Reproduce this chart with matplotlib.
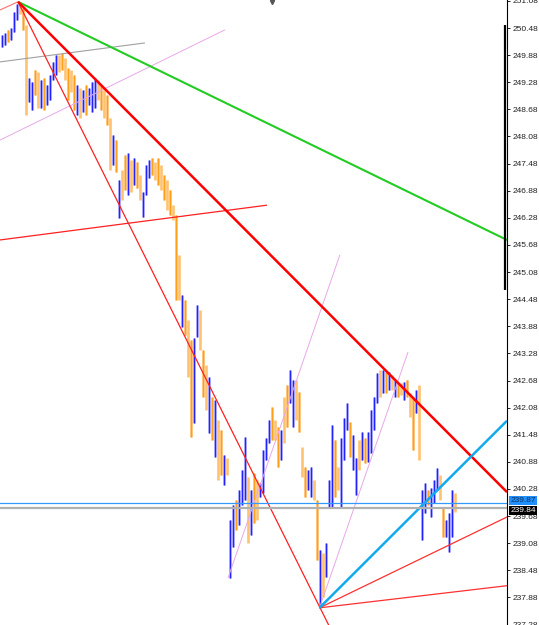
import matplotlib
matplotlib.use("Agg")
import matplotlib.pyplot as plt
import numpy as np

# ---------------- data ----------------
highs = [
    250.33, 250.37, 250.44, 250.48, 250.83, 251.01, 251.06, 250.92, 250.55, 249.37,
    249.29, 249.55, 249.51, 249.33, 249.37, 249.22, 249.44, 249.73, 249.88, 249.88,
    249.93, 249.82, 249.60, 249.55, 249.44, 249.22, 249.15, 249.11, 249.22, 249.15,
    249.29, 249.37, 249.33, 249.22, 249.11, 249.00, 248.49, 248.11, 248.00, 247.12,
    247.34, 247.67, 247.72, 247.56, 247.60, 247.52, 247.23, 246.85, 247.45, 247.56,
    247.60, 247.52, 247.60, 247.45, 247.23, 247.12, 246.90, 246.56, 246.34, 245.46,
    244.57, 244.46, 244.02, 243.58, 243.62, 244.35, 244.24, 243.36, 243.02, 242.76,
    242.32, 242.25, 241.81, 241.59, 241.03, 240.97, 239.60, 239.93, 240.04, 240.26,
    240.70, 241.43, 240.55, 240.26, 240.63, 240.48, 240.41, 241.14, 241.41, 241.81,
    242.10, 241.81, 241.65, 241.59, 242.32, 242.58, 242.91, 242.69, 242.69, 242.43,
    241.21, 240.77, 240.70, 240.77, 240.48, 240.04, 238.93, 238.87, 239.09, 240.48,
    241.70, 241.37, 240.77, 241.41, 241.85, 242.18, 241.76, 241.48, 240.97, 241.37,
    241.54, 241.41, 241.54, 242.03, 242.32, 242.85, 242.91, 242.91, 242.87, 242.87,
    242.80, 242.69, 242.63, 242.63, 242.65, 242.69, 242.41, 242.32, 242.47, 242.58,
    240.26, 240.41, 240.26, 240.30, 240.48, 240.75, 240.59, 239.88, 239.60, 239.75,
    240.26, 240.19,
]
lows = [
    250.06, 250.10, 250.17, 250.22, 250.39, 250.66, 250.79, 250.44, 248.56, 248.84,
    248.67, 249.00, 248.71, 248.71, 248.67, 248.78, 248.89, 249.33, 249.44, 249.51,
    249.55, 249.33, 248.89, 249.06, 248.67, 248.56, 248.49, 248.62, 248.56, 248.78,
    248.62, 248.71, 248.89, 248.67, 248.49, 248.34, 247.34, 247.45, 247.30, 246.28,
    246.68, 246.90, 246.79, 246.85, 247.01, 246.94, 246.68, 246.30, 246.79, 247.16,
    247.23, 247.12, 247.01, 246.90, 246.68, 246.45, 246.34, 246.23, 244.46, 244.46,
    243.87, 243.69, 242.76, 241.43, 241.74, 243.64, 243.36, 242.32, 242.03, 241.52,
    241.37, 240.99, 240.48, 240.59, 240.37, 240.59, 238.31, 239.00, 239.37, 239.49,
    239.93, 240.04, 239.09, 239.26, 239.53, 239.60, 240.10, 240.19, 240.92, 241.30,
    241.37, 241.37, 240.77, 240.92, 241.30, 241.65, 242.18, 241.65, 241.81, 241.54,
    240.55, 240.10, 240.26, 240.10, 240.04, 238.71, 237.65, 237.89, 238.33, 239.88,
    239.88, 240.10, 240.26, 239.88, 240.92, 241.59, 240.99, 240.70, 240.15, 240.70,
    240.92, 240.86, 240.88, 241.08, 241.59, 242.18, 242.32, 242.41, 242.41, 242.47,
    242.47, 242.32, 242.32, 242.36, 242.25, 242.32, 241.87, 241.14, 241.96, 240.92,
    239.15, 239.75, 239.93, 239.66, 239.97, 240.26, 240.04, 239.22, 239.22, 238.89,
    239.22, 239.77,
]
# B = up bar (blue), O = down bar (orange)
directions = (
    "BBOBBBOOOB"
    "BOOBOBBBBO"
    "OOOOOBOBOB"
    "BBOOOOOBOB"
    "OOBOBOOBBB"
    "OOOOOOOOOO"
    "BOOOBBOOOB"
    "OBOOBOBBOB"
    "BBOBOOBBBB"
    "OOOBOOBBOO"
    "OOBBOOBOBB"
    "BOOBBBOBBO"
    "BOBBBBOBOB"
    "OBOOBOOOBO"
    "BBOBBBOOBB"
    "BO"
)

# trend / fan lines: (bar index, price) pairs
green_line = [(5.5, 251.06), (168.5, 245.79)]
red_thick = [(5.5, 251.06), (168.5, 240.21)]
red_steep = [(5.5, 251.06), (109.5, 237.21)]
red_topleft = [(-0.5, 250.88), (5.5, 251.06)]
red_left = [(-0.5, 245.79), (88.5, 246.56)]
grey_line = [(-0.5, 249.73), (47.8, 250.15)]
pink_1 = [(-0.5, 248.00), (74.5, 250.44)]
pink_2 = [(75.5, 238.31), (112.8, 245.46)]
pink_3 = [(106.0, 237.65), (135.5, 243.31)]
cyan_line = [(106.0, 237.65), (168.5, 241.79)]
red_fan_1 = [(106.0, 237.65), (168.5, 239.66)]
red_fan_2 = [(106.0, 237.65), (168.5, 238.14)]

ask_price = 239.97
bid_price = 239.86
ask_label = "239.87"
bid_label = "239.84"

tick_values = [237.28, 237.88, 238.48, 239.08, 239.68, 240.28, 240.88, 241.48,
               242.08, 242.68, 243.28, 243.88, 244.48, 245.08, 245.68, 246.28,
               246.88, 247.48, 248.08, 248.68, 249.28, 249.88, 250.48, 251.08]
tick_labels = ["%.2f" % v for v in tick_values]

# ---------------- figure ----------------
W, H = 539, 625
fig = plt.figure(figsize=(W / 100, H / 100), dpi=100)
fig.patch.set_facecolor("white")
ax = fig.add_axes([0, 0, 507 / 539, 1])
ax.set_facecolor("white")
ax.set_xlim(-0.5, 168.5)
ax.set_ylim(237.27, 251.10)

idx = np.arange(len(highs))
hi = np.array(highs)
lo = np.array(lows)
up = np.array([c == "B" for c in directions])

# bars
ax.vlines(idx[~up], lo[~up], hi[~up], color="#ffc271", lw=1.9, zorder=2)
ax.vlines(idx[~up][::2], lo[~up][::2], hi[~up][::2], color="#ff9f1a", lw=0.9, zorder=2.1)
ax.vlines(idx[up], lo[up], hi[up], color="#a8a8ff", lw=1.9, zorder=2)
ax.vlines(idx[up], lo[up], hi[up], color="#2222ff", lw=0.9, zorder=2.1)

def seg(p, color, lw, z=3, alpha=1.0):
    (x0, y0), (x1, y1) = p
    ax.plot([x0, x1], [y0, y1], color=color, lw=lw, zorder=z, alpha=alpha,
            solid_capstyle="butt")

seg(grey_line, "#a0a0a0", 0.8)
seg(pink_1, "#e8a8e8", 0.7)
seg(pink_2, "#e8a8e8", 0.7)
seg(pink_3, "#e8a8e8", 0.7)
seg(red_topleft, "#ff7070", 0.8)
seg(red_left, "#ff2020", 0.9)
seg(red_steep, "#ff2020", 0.9)
seg(red_fan_1, "#ff3030", 0.9)
seg(red_fan_2, "#ff3030", 0.9)
seg(green_line, "#22cc22", 1.5)
seg(red_thick, "#ff0000", 1.8)
seg(cyan_line, "#11aaee", 1.8)

ax.axhline(ask_price, color="#3399ff", lw=0.9, zorder=4)
ax.axhline(bid_price, color="#b0b0b0", lw=1.6, zorder=3.9)

# small marker at top
ax.plot([90.2], [251.05], marker="v", ms=3, color="#555555", clip_on=False, zorder=5)

# thick black bar beside the axis
ax.plot([167.9, 167.9], [250.55, 244.68], color="black", lw=1.6, clip_on=False, zorder=5,
        solid_capstyle="butt")

# axes styling
for s in ["left", "top", "bottom"]:
    ax.spines[s].set_visible(False)
ax.spines["right"].set_color("black")
ax.spines["right"].set_linewidth(0.8)
ax.set_xticks([])
ax.yaxis.tick_right()
ax.set_yticks(tick_values)
ax.set_yticklabels(tick_labels)
ax.tick_params(axis="y", direction="out", length=2.5, width=0.7, pad=1.5,
               labelsize=6, labelcolor="#222222", colors="#222222")
for t in ax.get_yticklabels():
    t.set_fontfamily(["Liberation Sans", "DejaVu Sans"])

# price labels
ax.annotate(ask_label, xy=(1, ask_price), xycoords=("axes fraction", "data"),
            xytext=(2.5, 1.5), textcoords="offset points", va="center", ha="left",
            fontsize=6, family=["Liberation Sans", "DejaVu Sans"], color="#10305a",
            bbox=dict(boxstyle="square,pad=0.12", fc="#1e90ff", ec="none"),
            annotation_clip=False, zorder=6)
ax.annotate(bid_label, xy=(1, bid_price), xycoords=("axes fraction", "data"),
            xytext=(2.5, -1.5), textcoords="offset points", va="center", ha="left",
            fontsize=6, family=["Liberation Sans", "DejaVu Sans"], color="white",
            bbox=dict(boxstyle="square,pad=0.12", fc="black", ec="none"),
            annotation_clip=False, zorder=7)

fig.savefig("out.png", dpi=100, facecolor="white")
